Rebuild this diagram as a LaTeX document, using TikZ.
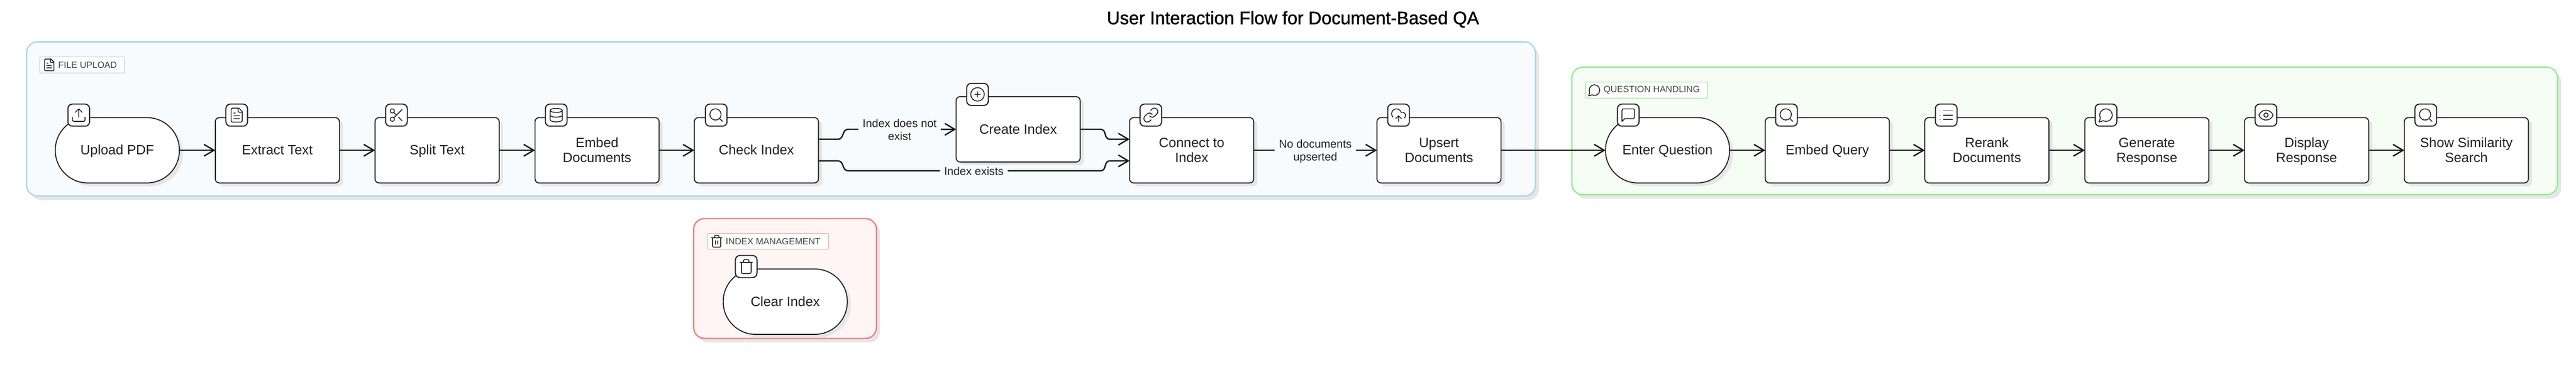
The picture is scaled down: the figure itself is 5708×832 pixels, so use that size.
\documentclass[tikz,border=0pt]{standalone}
\usepackage{fontspec}
\setmainfont{Liberation Sans}
\newfontfamily\titlefont[FakeBold=1.2]{Liberation Sans}
\usetikzlibrary{arrows.meta,shadows,svg.path}
\definecolor{ink}{HTML}{222222}
\definecolor{shadowgrey}{HTML}{E6E6E6}
\definecolor{bluefill}{HTML}{F7FBFE}
\definecolor{blueline}{HTML}{ADD8E6}
\definecolor{greenfill}{HTML}{F5FDF5}
\definecolor{greenline}{HTML}{90EE90}
\definecolor{redfill}{HTML}{FFF5F5}
\definecolor{redline}{HTML}{F08080}
\definecolor{labelink}{HTML}{444444}
\newcommand\ns{\rule[-6.5pt]{0pt}{33pt}}
\newcommand\es{\rule[-3.5pt]{0pt}{27pt}}
\tikzset{
  lucide/.style={shift={({-12*#1},{-12*#1})},scale=#1,yscale=-1},
  iconline/.style={draw=ink,line width=1.9pt,line cap=round,line join=round},
  boxnode/.style={draw=ink,line width=2.2pt,fill=white,rounded corners=9pt,inner sep=0pt,outer sep=0pt,
    minimum width=275pt,minimum height=145pt,align=center,text=ink,font=\fontsize{30}{34}\selectfont,
    general shadow={fill=shadowgrey,shadow xshift=8pt,shadow yshift=-7pt,opacity=1}},
  roundnode/.style={boxnode,rounded corners=72pt},
  iconbox/.style={draw=ink,line width=2.4pt,fill=white,rounded corners=10pt,inner sep=0pt,outer sep=0pt,
    minimum width=48pt,minimum height=49pt},
  clusterbox/.style={line width=3pt,rounded corners=24pt,inner sep=0pt,outer sep=0pt,
    general shadow={fill=shadowgrey,shadow xshift=8pt,shadow yshift=-9pt,opacity=1}},
  grouplabel/.style={fill=white,line width=1.4pt,rounded corners=3pt,inner sep=0pt,outer sep=0pt,
    anchor=north west},
  grouptext/.style={anchor=west,inner sep=0pt,text=labelink,font=\fontsize{20}{24}\selectfont},
  edgelabel/.style={inner sep=0pt,outer sep=0pt,align=center,text=ink,minimum height=10pt,
    font=\fontsize{25}{28}\selectfont},
  flow/.style={draw=black!90,line width=3pt},
  flowtip/.style={flow,-{Straight Barb[length=22pt,width=26pt,line width=3pt]}},
  pupload/.pic={\begin{scope}[lucide=#1]\path[iconline] svg "M 21 15 v 4 a 2 2 0 0 1 -2 2 H 5 a 2 2 0 0 1 -2 -2 v -4 M 17 8 L 12 3 L 7 8 M 12 3 V 15";\end{scope}},
  pfile/.pic={\begin{scope}[lucide=#1]\path[iconline] svg "M 15 2 H 6 a 2 2 0 0 0 -2 2 v 16 a 2 2 0 0 0 2 2 h 12 a 2 2 0 0 0 2 -2 V 7 Z M 14 2 v 4 a 2 2 0 0 0 2 2 h 4 M 10 9 H 8 M 16 13 H 8 M 16 17 H 8";\end{scope}},
  pscissors/.pic={\begin{scope}[lucide=#1]\path[iconline] svg "M 3 6 a 3 3 0 0 1 3 -3 a 3 3 0 0 1 3 3 a 3 3 0 0 1 -3 3 a 3 3 0 0 1 -3 -3 M 3 18 a 3 3 0 0 1 3 -3 a 3 3 0 0 1 3 3 a 3 3 0 0 1 -3 3 a 3 3 0 0 1 -3 -3 M 8.12 8.12 L 12 12 M 20 4 L 8.12 15.88 M 14.8 14.8 L 20 20";\end{scope}},
  pdatabase/.pic={\begin{scope}[lucide=#1]\path[iconline] svg "M 3 5 a 9 3 0 0 1 9 -3 a 9 3 0 0 1 9 3 a 9 3 0 0 1 -9 3 a 9 3 0 0 1 -9 -3 M 3 5 V 19 A 9 3 0 0 0 21 19 V 5 M 3 12 A 9 3 0 0 0 21 12";\end{scope}},
  psearch/.pic={\begin{scope}[lucide=#1]\path[iconline] svg "M 3 11 a 8 8 0 0 1 8 -8 a 8 8 0 0 1 8 8 a 8 8 0 0 1 -8 8 a 8 8 0 0 1 -8 -8 M 21 21 L 16.7 16.7";\end{scope}},
  pplus/.pic={\begin{scope}[lucide=#1]\path[iconline] svg "M 2 12 a 10 10 0 0 1 10 -10 a 10 10 0 0 1 10 10 a 10 10 0 0 1 -10 10 a 10 10 0 0 1 -10 -10 M 8 12 h 8 M 12 8 v 8";\end{scope}},
  plink/.pic={\begin{scope}[lucide=#1]\path[iconline] svg "M 10 13 a 5 5 0 0 0 7.54 0.54 l 3 -3 a 5 5 0 0 0 -7.07 -7.07 l -1.72 1.71 M 14 11 a 5 5 0 0 0 -7.54 -0.54 l -3 3 a 5 5 0 0 0 7.07 7.07 l 1.71 -1.71";\end{scope}},
  pcloud/.pic={\begin{scope}[lucide=#1]\path[iconline] svg "M 12 13 v 8 M 4 14.899 A 7 7 0 1 1 15.71 8 h 1.79 a 4.5 4.5 0 0 1 2.5 8.242 M 8 17 L 12 13 L 16 17";\end{scope}},
  psquare/.pic={\begin{scope}[lucide=#1]\path[iconline] svg "M 21 15 a 2 2 0 0 1 -2 2 H 7 l -4 4 V 5 a 2 2 0 0 1 2 -2 h 14 a 2 2 0 0 1 2 2 Z";\end{scope}},
  plist/.pic={\begin{scope}[lucide=#1]\path[iconline] svg "M 3 12 h 0.01 M 3 18 h 0.01 M 3 6 h 0.01 M 8 12 h 13 M 8 18 h 13 M 8 6 h 13";\end{scope}},
  pbubble/.pic={\begin{scope}[lucide=#1]\path[iconline] svg "M 7.9 20 A 9 9 0 1 0 4 16.1 L 2 22 Z";\end{scope}},
  peye/.pic={\begin{scope}[lucide=#1]\path[iconline] svg "M 2.062 12.348 a 1 1 0 0 1 0 -0.696 a 10.75 10.75 0 0 1 19.876 0 a 1 1 0 0 1 0 0.696 a 10.75 10.75 0 0 1 -19.876 0 M 9 12 a 3 3 0 0 1 3 -3 a 3 3 0 0 1 3 3 a 3 3 0 0 1 -3 3 a 3 3 0 0 1 -3 -3";\end{scope}},
  ptrash/.pic={\begin{scope}[lucide=#1]\path[iconline] svg "M 3 6 h 18 M 19 6 v 14 c 0 1 -1 2 -2 2 H 7 c -1 0 -2 -1 -2 -2 V 6 M 8 6 V 4 c 0 -1 1 -2 2 -2 h 4 c 1 0 2 1 2 2 v 2";\end{scope}},
  ptrashb/.pic={\begin{scope}[lucide=#1]\path[iconline] svg "M 3 6 h 18 M 19 6 v 14 c 0 1 -1 2 -2 2 H 7 c -1 0 -2 -1 -2 -2 V 6 M 8 6 V 4 c 0 -1 1 -2 2 -2 h 4 c 1 0 2 1 2 2 v 2 M 10 11 v 6 M 14 11 v 6";\end{scope}},
}
\begin{document}
\begin{tikzpicture}[x=1pt,y=-1pt]
\useasboundingbox[fill=white] (0,0) rectangle (5708,832);
% title
\node[inner sep=0pt,text=black,font=\titlefont\fontsize{40}{44}\selectfont] (title) at (2865,43) {User Interaction Flow for Document-Based QA};
% clusters
\node[clusterbox,draw=blueline,fill=bluefill,minimum width=3343pt,minimum height=342pt] (fileup) at (1730.5,264) {};
\node[clusterbox,draw=redline,fill=redfill,minimum width=405pt,minimum height=266pt] (indexmg) at (1739.5,618) {};
\node[clusterbox,draw=greenline,fill=greenfill,minimum width=2184pt,minimum height=283pt] (question) at (4575,290.5) {};
% cluster labels
\node[grouplabel,draw=blueline,minimum width=188pt,minimum height=36pt] (lab1) at (88,126) {};
\node[grouptext] (lab1t) at (129,144) {FILE UPLOAD};
\pic at (109,144) {pfile=1.3};
\node[grouplabel,draw=redline!70,minimum width=268pt,minimum height=35pt] (lab2) at (1568,518) {};
\node[grouptext] (lab2t) at (1608,535.5) {INDEX MANAGEMENT};
\pic at (1588,535.5) {ptrashb=1.3};
\node[grouplabel,draw=greenline,minimum width=271pt,minimum height=36pt] (lab3) at (3513,182) {};
\node[grouptext] (lab3t) at (3553,200) {QUESTION HANDLING};
\pic at (3533,200) {pbubble=1.3};
% nodes
\node[roundnode] (upload) at (260,333.5) {\ns Upload PDF};
\node[boxnode] (extract) at (614.5,333.5) {\ns Extract Text};
\node[boxnode] (split) at (968.5,333.5) {\ns Split Text};
\node[boxnode] (embed) at (1323,333.5) {\ns Embed\\\ns Documents};
\node[boxnode] (check) at (1676,333.5) {\ns Check Index};
\node[boxnode] (create) at (2256,287) {\ns Create Index};
\node[boxnode] (connect) at (2640.5,333.5) {\ns Connect to\\\ns Index};
\node[boxnode] (upsert) at (3188.5,333.5) {\ns Upsert\\\ns Documents};
\node[roundnode] (clear) at (1740,669.5) {\ns Clear Index};
\node[roundnode] (enter) at (3695,333.5) {\ns Enter Question};
\node[boxnode] (equery) at (4049,333.5) {\ns Embed Query};
\node[boxnode] (rerank) at (4402.5,333.5) {\ns Rerank\\\ns Documents};
\node[boxnode] (generate) at (4757,333.5) {\ns Generate\\\ns Response};
\node[boxnode] (display) at (5111,333.5) {\ns Display\\\ns Response};
\node[boxnode] (similar) at (5465,333.5) {\ns Show Similarity\\\ns Search};
% edge labels
\node[edgelabel,minimum width=183pt] (l1) at (1993.5,287) {\es Index does not\\\es exist};
\node[edgelabel,minimum width=150pt] (l2) at (2158,379) {\es Index exists};
\node[edgelabel,minimum width=181pt] (l3) at (2914.5,333.5) {\es No documents\\\es upserted};
% connectors
\draw[flowtip] (upload) -- (extract);
\draw[flowtip] (extract) -- (split);
\draw[flowtip] (split) -- (embed);
\draw[flowtip] (embed) -- (check);
\draw[flow] ([yshift=24.5pt]check.east) -- (1856,309) .. controls (1872,309) and (1864,287) .. (1880,287) -- (l1.west);
\draw[flowtip] (l1.east) -- (create.west);
\draw[flow] ([yshift=-23.5pt]check.east) -- (1856,357) .. controls (1872,357) and (1864,379) .. (1880,379) -- (l2.west);
\draw[flowtip] (l2.east) -- (2438,379) .. controls (2454,379) and (2444,357) .. (2460,357) -- ([yshift=-23.5pt]connect.west);
\draw[flowtip] (create.east) -- (2438,287) .. controls (2454,287) and (2444,309) .. (2460,309) -- ([yshift=24.5pt]connect.west);
\draw[flow] (connect.east) -- (l3.west);
\draw[flowtip] (l3.east) -- (upsert.west);
\draw[flowtip] (upsert) -- (enter);
\draw[flowtip] (enter) -- (equery);
\draw[flowtip] (equery) -- (rerank);
\draw[flowtip] (rerank) -- (generate);
\draw[flowtip] (generate) -- (display);
\draw[flowtip] (display) -- (similar);
% icons
\node[iconbox] (i1) at (174.5,255.5) {}; \pic at (i1) {pupload=1.55};
\node[iconbox] (i2) at (524.5,255.5) {}; \pic at (i2) {pfile=1.55};
\node[iconbox] (i3) at (878.5,255.5) {}; \pic at (i3) {pscissors=1.55};
\node[iconbox] (i4) at (1232.5,255.5) {}; \pic at (i4) {pdatabase=1.5};
\node[iconbox] (i5) at (1587,255.5) {}; \pic at (i5) {psearch=1.55};
\node[iconbox] (i6) at (2166,209.5) {}; \pic at (i6) {pplus=1.5};
\node[iconbox] (i7) at (2550,255.5) {}; \pic at (i7) {plink=1.55};
\node[iconbox] (i8) at (3099,255.5) {}; \pic at (i8) {pcloud=1.55};
\node[iconbox] (i9) at (1653.5,591.5) {}; \pic at (i9) {ptrash=1.55};
\node[iconbox] (i10) at (3608,255.5) {}; \pic at (i10) {psquare=1.55};
\node[iconbox] (i11) at (3958.5,255.5) {}; \pic at (i11) {psearch=1.55};
\node[iconbox] (i12) at (4312.5,255.5) {}; \pic at (i12) {plist=1.55};
\node[iconbox] (i13) at (4666.5,255.5) {}; \pic at (i13) {pbubble=1.55};
\node[iconbox] (i14) at (5021,255.5) {}; \pic at (i14) {peye=1.55};
\node[iconbox] (i15) at (5375,255.5) {}; \pic at (i15) {psearch=1.55};
\end{tikzpicture}
\end{document}
